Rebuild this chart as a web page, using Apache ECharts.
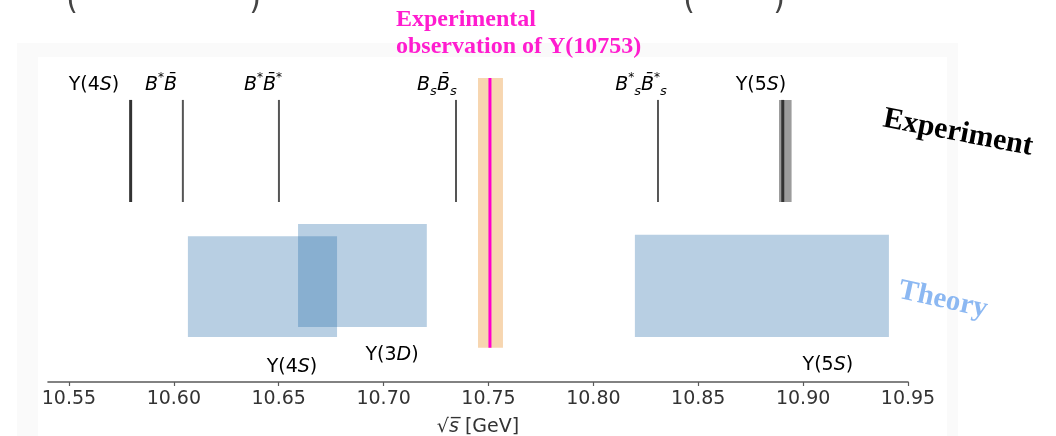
<!DOCTYPE html>
<html>
<head>
<meta charset="utf-8">
<script src="https://cdn.jsdelivr.net/npm/echarts@6.0.0/dist/echarts.min.js"></script>
<style>
  html, body { margin: 0; padding: 0; background: #fff; }
  #chart { width: 1056px; height: 436px; }
</style>
</head>
<body>
<div id="chart"></div>
<script>
// Axis ticks (GeV)
const tickValues = [10.55, 10.60, 10.65, 10.70, 10.75, 10.80, 10.85, 10.90, 10.95];

// Measured states and thresholds (GeV)
const expLabels = [
  '{n|Υ(4}{i|S}{n|)}',
  '{i|B}{sup|*}{i|B\u0304}',
  '{i|B}{sup|*}{i|B\u0304}{sup|*}',
  '{i|B}{sub|s}{i|B\u0304}{sub|s}',
  '{i|B}{sup|*}{sub|s}{i|B\u0304}{sup|*}{sub|s}',
  '{n|Υ(5}{i|S}{n|)}'
];
const expMasses = [10.5794, 10.6043, 10.6501, 10.7345, 10.8308, 10.8903];
const expLabelAt = [10.5619, 10.5939, 10.6425, 10.7254, 10.8227, 10.8799];
const upsilon5SWidth = [10.8885, 10.8945];

// Υ(10753): central value and uncertainty band
const y10753Mass = 10.7507;
const y10753Band = [10.7450, 10.7569];

// Theory predictions (mass ranges, GeV)
const theoryLabels = ['{n|Υ(4}{i|S}{n|)}', '{n|Υ(3}{i|D}{n|)}', '{n|Υ(5}{i|S}{n|)}'];
const theoryLow = [10.6067, 10.6592, 10.8198];
const theoryHigh = [10.6778, 10.7206, 10.9409];
const theoryLabelAt = [10.6563, 10.7040, 10.9118];

// Vertical placement of each row on the hidden y scale (0..10)
const ROW = {
  expLine: [5.59, 8.76],
  expLabel: 9.22,
  band: [1.06, 9.44],
  theory: [[1.40, 4.53], [1.71, 4.91], [1.40, 4.57]],
  theoryLabel: [0.47, 0.84, 0.53]
};

const labelRich = {
  n: { fontFamily: 'DejaVu Sans', fontSize: 19, color: '#333', lineHeight: 26 },
  i: { fontFamily: 'DejaVu Sans', fontStyle: 'italic', fontSize: 19, color: '#333', lineHeight: 26 },
  sup: { fontFamily: 'DejaVu Sans', fontStyle: 'italic', fontSize: 12, color: '#333', verticalAlign: 'top', lineHeight: 14 },
  sub: { fontFamily: 'DejaVu Sans', fontStyle: 'italic', fontSize: 13, color: '#333', verticalAlign: 'bottom', lineHeight: 14 }
};

function textItem(api, x, y, text) {
  const p = api.coord([x, y]);
  return {
    type: 'text',
    x: p[0], y: p[1],
    style: { text: text, rich: labelRich, align: 'center', verticalAlign: 'middle' }
  };
}

const chart = echarts.init(document.getElementById('chart'), null, { renderer: 'canvas' });

const option = {
  animation: false,
  backgroundColor: '#fff',
  grid: { left: 48, right: 148, top: 60, bottom: 54, outerBoundsMode: 'none', containLabel: false },
  xAxis: {
    type: 'value',
    min: 10.54,
    max: 10.95,
    splitLine: { show: false },
    axisLine: { onZero: false, lineStyle: { color: '#5a5a5a', width: 1.6 } },
    axisTick: { customValues: tickValues, length: 4, lineStyle: { color: '#5a5a5a', width: 1.2 } },
    axisLabel: {
      customValues: tickValues,
      formatter: v => v.toFixed(2),
      fontFamily: 'DejaVu Sans', fontSize: 19, color: '#333', margin: 8
    },
    name: '{n|√}{i|s\u0305}{n| [GeV]}',
    nameLocation: 'middle',
    nameGap: 32,
    nameTextStyle: { rich: labelRich }
  },
  yAxis: { type: 'value', min: 0, max: 10, show: false },
  graphic: [
    { type: 'rect', silent: true, z: -10, shape: { x: 17, y: 43, width: 941, height: 393 }, style: { fill: '#fafafa' } },
    { type: 'rect', silent: true, z: -9, shape: { x: 38, y: 57, width: 909, height: 379 }, style: { fill: '#ffffff' } },
    { type: 'text', x: 72, y: 16, style: { text: '(', font: '30px DejaVu Sans', fill: '#444', align: 'center', verticalAlign: 'bottom' } },
    { type: 'text', x: 255, y: 16, style: { text: ')', font: '30px DejaVu Sans', fill: '#444', align: 'center', verticalAlign: 'bottom' } },
    { type: 'text', x: 689, y: 16, style: { text: '(', font: '30px DejaVu Sans', fill: '#444', align: 'center', verticalAlign: 'bottom' } },
    { type: 'text', x: 779, y: 16, style: { text: ')', font: '30px DejaVu Sans', fill: '#444', align: 'center', verticalAlign: 'bottom' } },
    { type: 'text', x: 396, y: 20, z: 10, style: { text: 'Experimental', font: 'bold 24px "Liberation Serif"', fill: '#ff1ccf', align: 'left', verticalAlign: 'middle' } },
    { type: 'text', x: 396, y: 47, z: 10, style: { text: 'observation of Υ(10753)', font: 'bold 24px "Liberation Serif"', fill: '#ff1ccf', align: 'left', verticalAlign: 'middle' } },
    { type: 'text', x: 958, y: 133, rotation: -0.19, style: { text: 'Experiment', font: 'bold 30px "Liberation Serif"', fill: '#000', align: 'center', verticalAlign: 'middle' } },
    { type: 'text', x: 943, y: 300, rotation: -0.22, style: { text: 'Theory', font: 'bold 29px "Liberation Serif"', fill: '#8cb8f2', align: 'center', verticalAlign: 'middle' } }
  ],
  series: [
    {
      // theory mass ranges
      type: 'custom',
      data: theoryLow.map((lo, i) => [lo, theoryHigh[i], i]),
      encode: { x: [0, 1] },
      renderItem: (params, api) => {
        const i = api.value(2);
        const r = ROW.theory[i];
        const p0 = api.coord([api.value(0), r[1]]);
        const p1 = api.coord([api.value(1), r[0]]);
        return {
          type: 'rect',
          shape: { x: p0[0], y: p0[1], width: p1[0] - p0[0], height: p1[1] - p0[1] },
          style: { fill: 'rgba(40,110,170,0.33)' }
        };
      }
    },
    {
      // Υ(10753) band and central value
      type: 'custom',
      data: [[y10753Band[0], y10753Band[1], y10753Mass]],
      encode: { x: [0, 1, 2] },
      renderItem: (params, api) => {
        const a = api.coord([api.value(0), ROW.band[1]]);
        const b = api.coord([api.value(1), ROW.band[0]]);
        const c = api.coord([api.value(2), 0])[0];
        return {
          type: 'group',
          children: [
            { type: 'rect', shape: { x: a[0], y: a[1], width: b[0] - a[0], height: b[1] - a[1] }, style: { fill: '#f7d6b0' } },
            { type: 'line', shape: { x1: c, y1: a[1], x2: c, y2: b[1] }, style: { stroke: '#ff00cc', lineWidth: 3 } }
          ]
        };
      }
    },
    {
      // measured masses and thresholds
      type: 'custom',
      data: expMasses.map((m, i) => [m, i]),
      encode: { x: 0 },
      renderItem: (params, api) => {
        const i = api.value(1);
        const x = api.value(0);
        const top = api.coord([x, ROW.expLine[1]]);
        const bot = api.coord([x, ROW.expLine[0]]);
        const children = [];
        if (i === 5) {
          const l = api.coord([upsilon5SWidth[0], 0])[0];
          const r = api.coord([upsilon5SWidth[1], 0])[0];
          children.push({ type: 'rect', shape: { x: l, y: top[1], width: r - l, height: bot[1] - top[1] }, style: { fill: '#9c9c9c' } });
        }
        const heavy = (i === 0 || i === 5);
        children.push({
          type: 'line',
          shape: { x1: top[0], y1: top[1], x2: bot[0], y2: bot[1] },
          style: { stroke: heavy ? '#333' : '#555', lineWidth: heavy ? 3 : 2 }
        });
        return { type: 'group', children: children };
      }
    },
    {
      // labels for measured states
      type: 'custom',
      data: expLabelAt.map((x, i) => [x, i]),
      encode: { x: 0 },
      renderItem: (params, api) => textItem(api, api.value(0), ROW.expLabel, expLabels[api.value(1)])
    },
    {
      // labels for theory ranges
      type: 'custom',
      data: theoryLabelAt.map((x, i) => [x, i]),
      encode: { x: 0 },
      renderItem: (params, api) => {
        const i = api.value(1);
        return textItem(api, api.value(0), ROW.theoryLabel[i], theoryLabels[i]);
      }
    }
  ]
};

chart.setOption(option);
</script>
</body>
</html>
